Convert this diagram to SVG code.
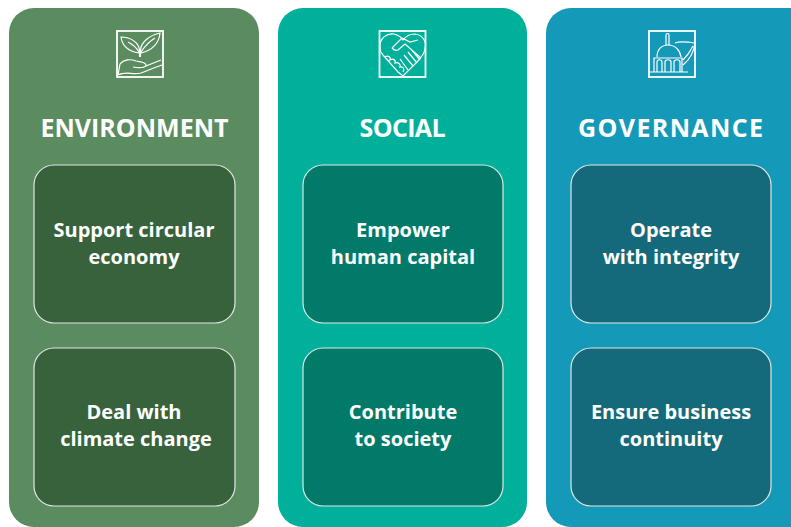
<svg xmlns="http://www.w3.org/2000/svg" width="791" height="527" viewBox="0 0 791 527">
<style>
text{font-family:"Open Sans","Noto Sans","Liberation Sans",sans-serif;font-weight:700;fill:#fff;text-anchor:middle}
.t{font-size:25px}
.b{font-size:20px}
.box{stroke:#dfe8e6;stroke-width:1.2}
.ic{fill:none;stroke:#fff;stroke-width:1.2}
.fr{fill:none;stroke:#fff;stroke-width:1.8}
</style>
<rect width="791" height="527" fill="#fff"/>
<g id="environment">
<rect x="9" y="8" width="250" height="519" rx="25" fill="#5a8c60"/>
<g id="icon-environment">
<rect class="fr" x="117" y="31" width="46" height="46"/>
<path class="ic" d="M139.500 57V50C139 43 131 37 121 37C122 45 127 51 139 53M140.500 57V50C141 42 150 35 160 33C159 43 153 50 141 53M128 42C132 44 136 47 139 52M155 38C150 41 145 46 141 52"/>
<path class="ic" d="M118 75L120 64C124 59 131 59 136 61C140 62 146 62 146 65C146 68 138 68 133 67M146 66L161 60M118 75C125 71 133 75 141 73C147 71 153 68 162 65"/>
</g>
<text class="t" x="134.500" y="136.500">ENVIRONMENT</text>
</g>
<g id="env-circular"><rect class="box" x="34" y="165" width="201" height="158" rx="20" fill="#38623c"/><text class="b" x="134" y="237">Support circular</text><text class="b" x="134" y="264">economy</text></g>
<g id="env-climate"><rect class="box" x="34" y="348" width="201" height="158" rx="20" fill="#38623c"/><text class="b" x="134" y="419">Deal with</text><text class="b" x="136" y="446">climate change</text></g>
<g id="social">
<rect x="278" y="8" width="249" height="519" rx="25" fill="#00b09b"/>
<g id="icon-social">
<rect class="fr" x="379.500" y="31" width="46" height="46"/>
<path class="ic" d="M380 48C379 38 387 33 394 34C398 35 401 37 403 40C406 36 410 34 415 34C423 35 427 42 425 49C424 55 420 59 417 62L403 76L398 72L383 55C381 53 380 51 380 48Z"/>
<path class="ic" d="M392 48L402 38L410 42L418 40M392 48C394 50 396 51 398 50L405 44L421 58M411 49L420 60M408 52L417 63M404 55L413 66M400 59L408 70M385 57C388 55 391 57 390 60C393 58 396 60 395 63C398 62 401 64 400 67C403 66 405 69 403 72"/>
</g>
<text class="t" x="402.500" y="136.500" textLength="86" lengthAdjust="spacing">SOCIAL</text>
</g>
<g id="soc-capital"><rect class="box" x="303" y="165" width="200" height="158" rx="20" fill="#027a69"/><text class="b" x="403" y="237">Empower</text><text class="b" x="403" y="264">human capital</text></g>
<g id="soc-society"><rect class="box" x="303" y="348" width="200" height="158" rx="20" fill="#027a69"/><text class="b" x="403" y="419">Contribute</text><text class="b" x="403" y="446">to society</text></g>
<g id="governance">
<rect x="546" y="8" width="270" height="519" rx="25" fill="#1599b8"/>
<g id="icon-governance">
<rect class="fr" x="649" y="31" width="46" height="46"/>
<path class="ic" d="M650 72H688M654 72V58H682V72M657 72V62C657 59 662 59 662 62V72M665 72V62C665 59 671 59 671 62V72M674 72V62C674 59 680 59 680 62V72M657 57C657 50 661 45 668 45C675 45 680 50 681 57M666 45V35C666 33 669 33 669 35V45M675 43C680 41 688 42 695 43C694 52 689 60 683 65M683 60C687 56 691 50 693 46"/>
</g>
<text class="t" x="670.500" y="136.500" textLength="185" lengthAdjust="spacing">GOVERNANCE</text>
</g>
<g id="gov-integrity"><rect class="box" x="571" y="165" width="200" height="158" rx="20" fill="#146a7a"/><text class="b" x="671" y="237">Operate</text><text class="b" x="671" y="264">with integrity</text></g>
<g id="gov-continuity"><rect class="box" x="571" y="348" width="200" height="158" rx="20" fill="#146a7a"/><text class="b" x="671" y="419">Ensure business</text><text class="b" x="671" y="446">continuity</text></g>
<g id="connectors"/>
</svg>
